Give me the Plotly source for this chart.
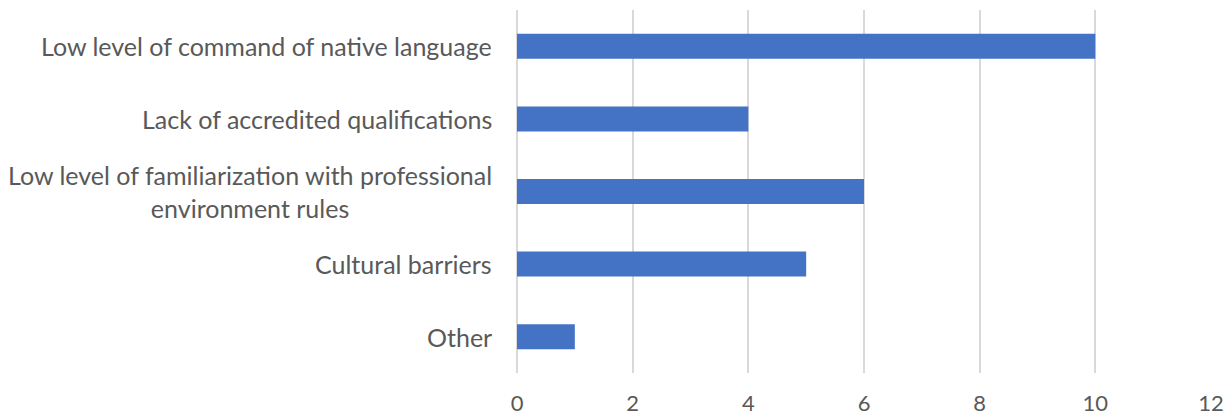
import plotly.graph_objects as go

# Barriers reported, top to bottom
categories = [
    "Low level of command of native language",
    "Lack of accredited qualifications",
    "Low level of familiarization with professional<br>environment rules",
    "Cultural barriers",
    "Other",
]
values = [10, 4, 6, 5, 1]
x_ticks = [0, 2, 4, 6, 8, 10, 12]

FONT = "Lato"
TEXT_COLOR = "#595959"
GRID_COLOR = "#d9d9d9"

fig = go.Figure(
    go.Bar(
        x=values,
        y=categories,
        orientation="h",
        marker=dict(color="#4472C4", line=dict(width=0)),
        hoverinfo="x+y",
    )
)

# Category labels drawn as annotations so wrapped lines can be centred
for cat in categories:
    fig.add_annotation(
        x=0, xref="paper", y=cat, yref="y",
        text=cat, showarrow=False,
        xanchor="right", yanchor="middle", align="center",
        xshift=-23,
        font=dict(family=FONT, size=25, color=TEXT_COLOR),
    )

fig.update_layout(
    width=1231, height=417,
    margin=dict(l=517, r=20, t=10, b=44),
    paper_bgcolor="white", plot_bgcolor="white",
    bargap=0.655,
    showlegend=False,
    font=dict(family=FONT, color=TEXT_COLOR),
)
fig.update_xaxes(
    range=[0, 12], tickvals=x_ticks,
    showgrid=True, gridcolor=GRID_COLOR, gridwidth=1.5,
    zeroline=True, zerolinecolor=GRID_COLOR, zerolinewidth=1.5,
    showline=False, automargin=False,
    ticks="", ticklabelstandoff=15,
    tickfont=dict(family=FONT, size=22, color=TEXT_COLOR),
)
fig.update_yaxes(
    autorange="reversed", showticklabels=False, automargin=False,
    showgrid=False, zeroline=False, showline=False, ticks="",
)

fig.write_html("out.html")
